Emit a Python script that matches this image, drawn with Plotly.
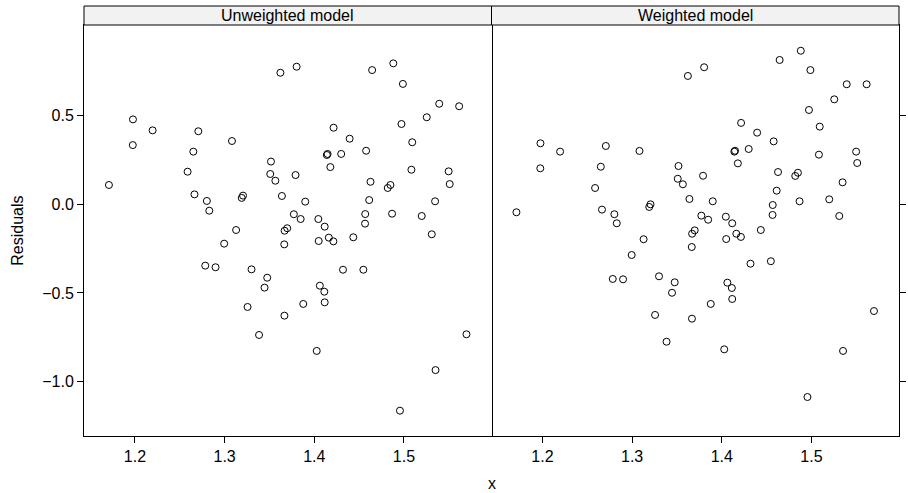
import plotly.graph_objects as go

panels = ["Unweighted model", "Weighted model"]

x = [1.1710, 1.1978, 1.1976, 1.2197, 1.2587, 1.2664, 1.2651, 1.2707, 1.2802, 1.2829,
     1.2784, 1.2899, 1.2995, 1.3082, 1.3128, 1.3205, 1.3191, 1.3256, 1.3300, 1.3384,
     1.3445, 1.3475, 1.3517, 1.3509, 1.3566, 1.3622, 1.3639, 1.3667, 1.3665, 1.3698,
     1.3669, 1.3772, 1.3791, 1.3803, 1.3848, 1.3877, 1.3899, 1.4027, 1.4045, 1.4049,
     1.4062, 1.4116, 1.4112, 1.4116, 1.4148, 1.4140, 1.4162, 1.4179, 1.4213, 1.4215,
     1.4300, 1.4320, 1.4394, 1.4435, 1.4547, 1.4568, 1.4566, 1.4578, 1.4612, 1.4627,
     1.4645, 1.4819, 1.4849, 1.4867, 1.4881, 1.4955, 1.4972, 1.4988, 1.5083, 1.5092,
     1.5198, 1.5254, 1.5310, 1.5347, 1.5352, 1.5393, 1.5498, 1.5510, 1.5615, 1.5697]

resid_unweighted = [0.109, 0.479, 0.334, 0.417, 0.184, 0.056, 0.297, 0.412, 0.019, -0.036,
                    -0.346, -0.355, -0.222, 0.357, -0.145, 0.049, 0.036, -0.579, -0.367, -0.737,
                    -0.470, -0.414, 0.241, 0.171, 0.133, 0.742, 0.047, -0.628, -0.226, -0.135,
                    -0.149, -0.056, 0.165, 0.776, -0.083, -0.562, 0.015, -0.827, -0.083, -0.207,
                    -0.459, -0.126, -0.493, -0.553, 0.284, 0.278, -0.188, 0.210, -0.209, 0.432,
                    0.284, -0.369, 0.370, -0.186, -0.369, -0.055, -0.109, 0.302, 0.024, 0.127,
                    0.757, 0.092, 0.109, -0.053, 0.795, -1.164, 0.453, 0.679, 0.195, 0.350,
                    -0.066, 0.491, -0.169, 0.017, -0.935, 0.567, 0.186, 0.114, 0.553, -0.733]

resid_weighted = [-0.045, 0.344, 0.203, 0.297, 0.092, -0.030, 0.212, 0.329, -0.056, -0.107,
                  -0.421, -0.423, -0.286, 0.301, -0.197, 0.000, -0.015, -0.624, -0.406, -0.775,
                  -0.499, -0.440, 0.216, 0.144, 0.113, 0.724, 0.030, -0.645, -0.241, -0.147,
                  -0.166, -0.064, 0.161, 0.773, -0.087, -0.562, 0.017, -0.818, -0.070, -0.196,
                  -0.442, -0.107, -0.472, -0.534, 0.302, 0.297, -0.166, 0.231, -0.184, 0.459,
                  0.312, -0.335, 0.404, -0.145, -0.321, -0.004, -0.060, 0.355, 0.077, 0.182,
                  0.814, 0.160, 0.178, 0.017, 0.866, -1.087, 0.532, 0.757, 0.280, 0.438,
                  0.028, 0.592, -0.066, 0.124, -0.827, 0.677, 0.297, 0.233, 0.677, -0.602]

x_ticks = [1.2, 1.3, 1.4, 1.5]
x_tick_labels = ["1.2", "1.3", "1.4", "1.5"]
y_ticks = [-1.0, -0.5, 0.0, 0.5]
y_tick_labels = ["\u22121.0", "\u22120.5", "0.0", "0.5"]

FONT = "Liberation Sans, Arial, Helvetica, sans-serif"
W, H = 908, 493
ML, MR, MT, MB = 84, 3, 25, 57
plot_h = H - MT - MB

marker = dict(symbol="circle-open", size=7, color="black", line=dict(width=1, color="black"))

fig = go.Figure()
fig.add_trace(go.Scatter(x=x, y=resid_unweighted, mode="markers", marker=marker,
                         xaxis="x", yaxis="y", showlegend=False))
fig.add_trace(go.Scatter(x=x, y=resid_weighted, mode="markers", marker=marker,
                         xaxis="x2", yaxis="y2", showlegend=False))

xr = [1.1432, 1.5976]
yr = [-1.3068, 1.0113]

common_x = dict(range=xr, tickvals=x_ticks, ticktext=x_tick_labels, ticks="outside",
                ticklen=6, tickwidth=1, tickcolor="black", showline=True, linecolor="black",
                linewidth=1, mirror=True, showgrid=False, zeroline=False,
                tickfont=dict(family=FONT, size=16, color="black"))
common_y = dict(range=yr, tickvals=y_ticks, ticktext=y_tick_labels, ticks="outside",
                ticklen=6, tickwidth=1, tickcolor="black", showline=True, linecolor="black",
                linewidth=1, showgrid=False, zeroline=False,
                tickfont=dict(family=FONT, size=16, color="black"))

fig.update_layout(
    width=W, height=H,
    margin=dict(l=ML, r=MR, t=MT, b=MB, pad=0),
    paper_bgcolor="white", plot_bgcolor="white",
    xaxis=dict(domain=[0, 0.5], anchor="y", **common_x),
    xaxis2=dict(domain=[0.5, 1], anchor="y2", **common_x),
    yaxis=dict(domain=[0, 1], anchor="x", side="left", mirror=True, **common_y),
    yaxis2=dict(domain=[0, 1], anchor="x2", side="right", mirror=False,
                showticklabels=False, **common_y),
)

strip_h = 19 / plot_h
shapes = []
annotations = []
for i, name in enumerate(panels):
    x0, x1 = 0.5 * i, 0.5 * (i + 1)
    shapes.append(dict(type="rect", xref="paper", yref="paper", x0=x0, x1=x1,
                       y0=1, y1=1 + strip_h, fillcolor="#f2f2f2",
                       line=dict(color="black", width=1), layer="above"))
    annotations.append(dict(text=name, xref="paper", yref="paper", x=(x0 + x1) / 2,
                            y=1 + strip_h / 2, xanchor="center", yanchor="middle",
                            showarrow=False, font=dict(family=FONT, size=16, color="black")))

annotations.append(dict(text="Residuals", xref="paper", yref="paper",
                        x=(16.7 - ML) / (W - ML - MR), y=0.5, xanchor="center",
                        yanchor="middle", textangle=-90, showarrow=False,
                        font=dict(family=FONT, size=16, color="black")))
annotations.append(dict(text="x", xref="paper", yref="paper", x=0.5,
                        y=(436 - 483) / plot_h, xanchor="center", yanchor="middle",
                        showarrow=False, font=dict(family=FONT, size=16, color="black")))

fig.update_layout(shapes=shapes, annotations=annotations)

fig.write_html("out.html")
